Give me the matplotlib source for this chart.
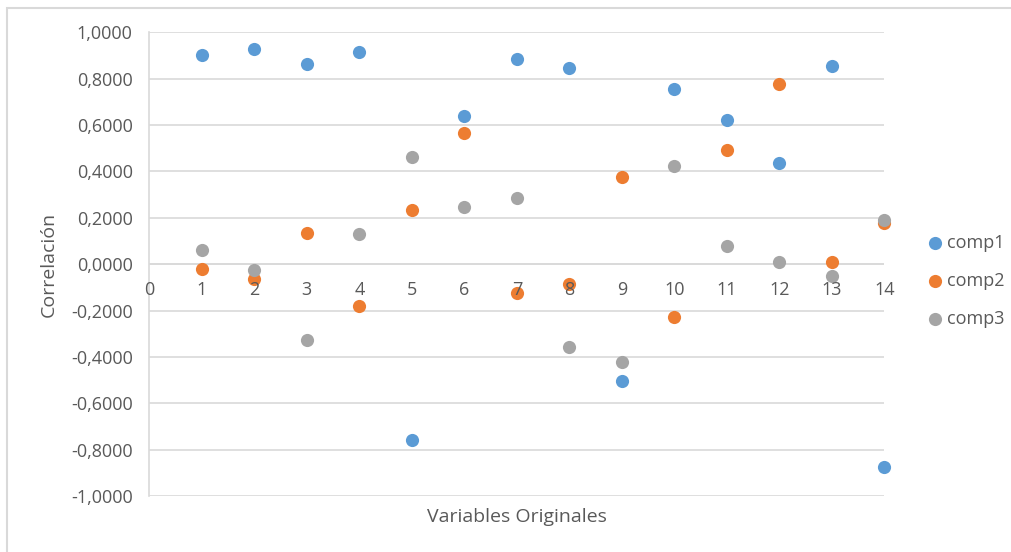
import matplotlib
matplotlib.use("Agg")
import matplotlib.pyplot as plt
from matplotlib.patches import Rectangle
from matplotlib.ticker import FuncFormatter, MultipleLocator

variables = list(range(1, 15))
comp1 = [0.901, 0.928, 0.865, 0.914, -0.760, 0.641, 0.886, 0.845, -0.504, 0.757, 0.623, 0.437, 0.855, -0.877]
comp2 = [-0.023, -0.063, 0.136, -0.180, 0.233, 0.567, -0.124, -0.086, 0.376, -0.230, 0.493, 0.776, 0.009, 0.179]
comp3 = [0.063, -0.027, -0.328, 0.131, 0.461, 0.247, 0.284, -0.356, -0.421, 0.424, 0.080, 0.011, -0.053, 0.192]

series = [("comp1", comp1, "#5B9BD5"), ("comp2", comp2, "#ED7D31"), ("comp3", comp3, "#A5A5A5")]

plt.rcParams["font.family"] = ["Open Sans", "DejaVu Sans"]
text_color = "#595959"
grid_color = "#D9D9D9"
tick_fs = 13
label_fs = 14

W, H = 1012, 552
fig = plt.figure(figsize=(W / 100, H / 100), dpi=100)
fig.patch.set_facecolor("white")

# chart area border (top and left edges visible)
fig.patches.append(Rectangle((7 / W, -10 / H), (W + 20) / W, (H - 8 + 10) / H,
                             transform=fig.transFigure, fill=False,
                             edgecolor=grid_color, linewidth=1.5))

left, right, top, bottom = 149.3, 884.5, 32.3, 496.0
ax = fig.add_axes([left / W, 1 - bottom / H, (right - left) / W, (bottom - top) / H])

for name, vals, color in series:
    ax.scatter(variables, vals, s=90, color=color, label=name, zorder=3,
               clip_on=False, linewidths=0)

ax.set_xlim(0, 14)
ax.set_ylim(-1, 1)
ax.yaxis.set_major_locator(MultipleLocator(0.2))
ax.xaxis.set_major_locator(MultipleLocator(1))
ax.yaxis.set_major_formatter(FuncFormatter(lambda v, p: f"{v:.4f}".replace(".", ",").replace("-0,0000", "0,0000")))
ax.grid(axis="y", color=grid_color, linewidth=1.2, zorder=0)
ax.set_axisbelow(True)

for s in ["top", "right", "bottom"]:
    ax.spines[s].set_visible(False)
ax.spines["left"].set_color(grid_color)
ax.spines["left"].set_linewidth(1.2)
ax.axhline(0, color=grid_color, linewidth=1.2, zorder=1)

ax.tick_params(axis="both", length=0, labelsize=tick_fs, labelcolor=text_color)
ax.tick_params(axis="y", pad=12)

# x tick labels sit under the zero line
ax.set_xticklabels([])
for v in range(0, 15):
    ax.text(v, -0.111, str(v), ha="center", va="center", fontsize=tick_fs,
            color=text_color, zorder=4)

ax.set_xlabel("Variables Originales", fontsize=label_fs, color=text_color)
ax.xaxis.set_label_coords(0.5, -0.025)
ax.set_ylabel("Correlación", fontsize=label_fs, color=text_color)
ax.yaxis.set_label_coords(-0.124, 0.5)

ax.legend(loc="center left", bbox_to_anchor=(928.5 / W, 1 - 281 / H),
          bbox_transform=fig.transFigure, frameon=False, fontsize=tick_fs,
          handlelength=0.75, handletextpad=0.25, labelspacing=1.1,
          borderpad=0, borderaxespad=0, labelcolor=text_color, scatterpoints=1)

fig.savefig("out.png", dpi=100, facecolor="white")
